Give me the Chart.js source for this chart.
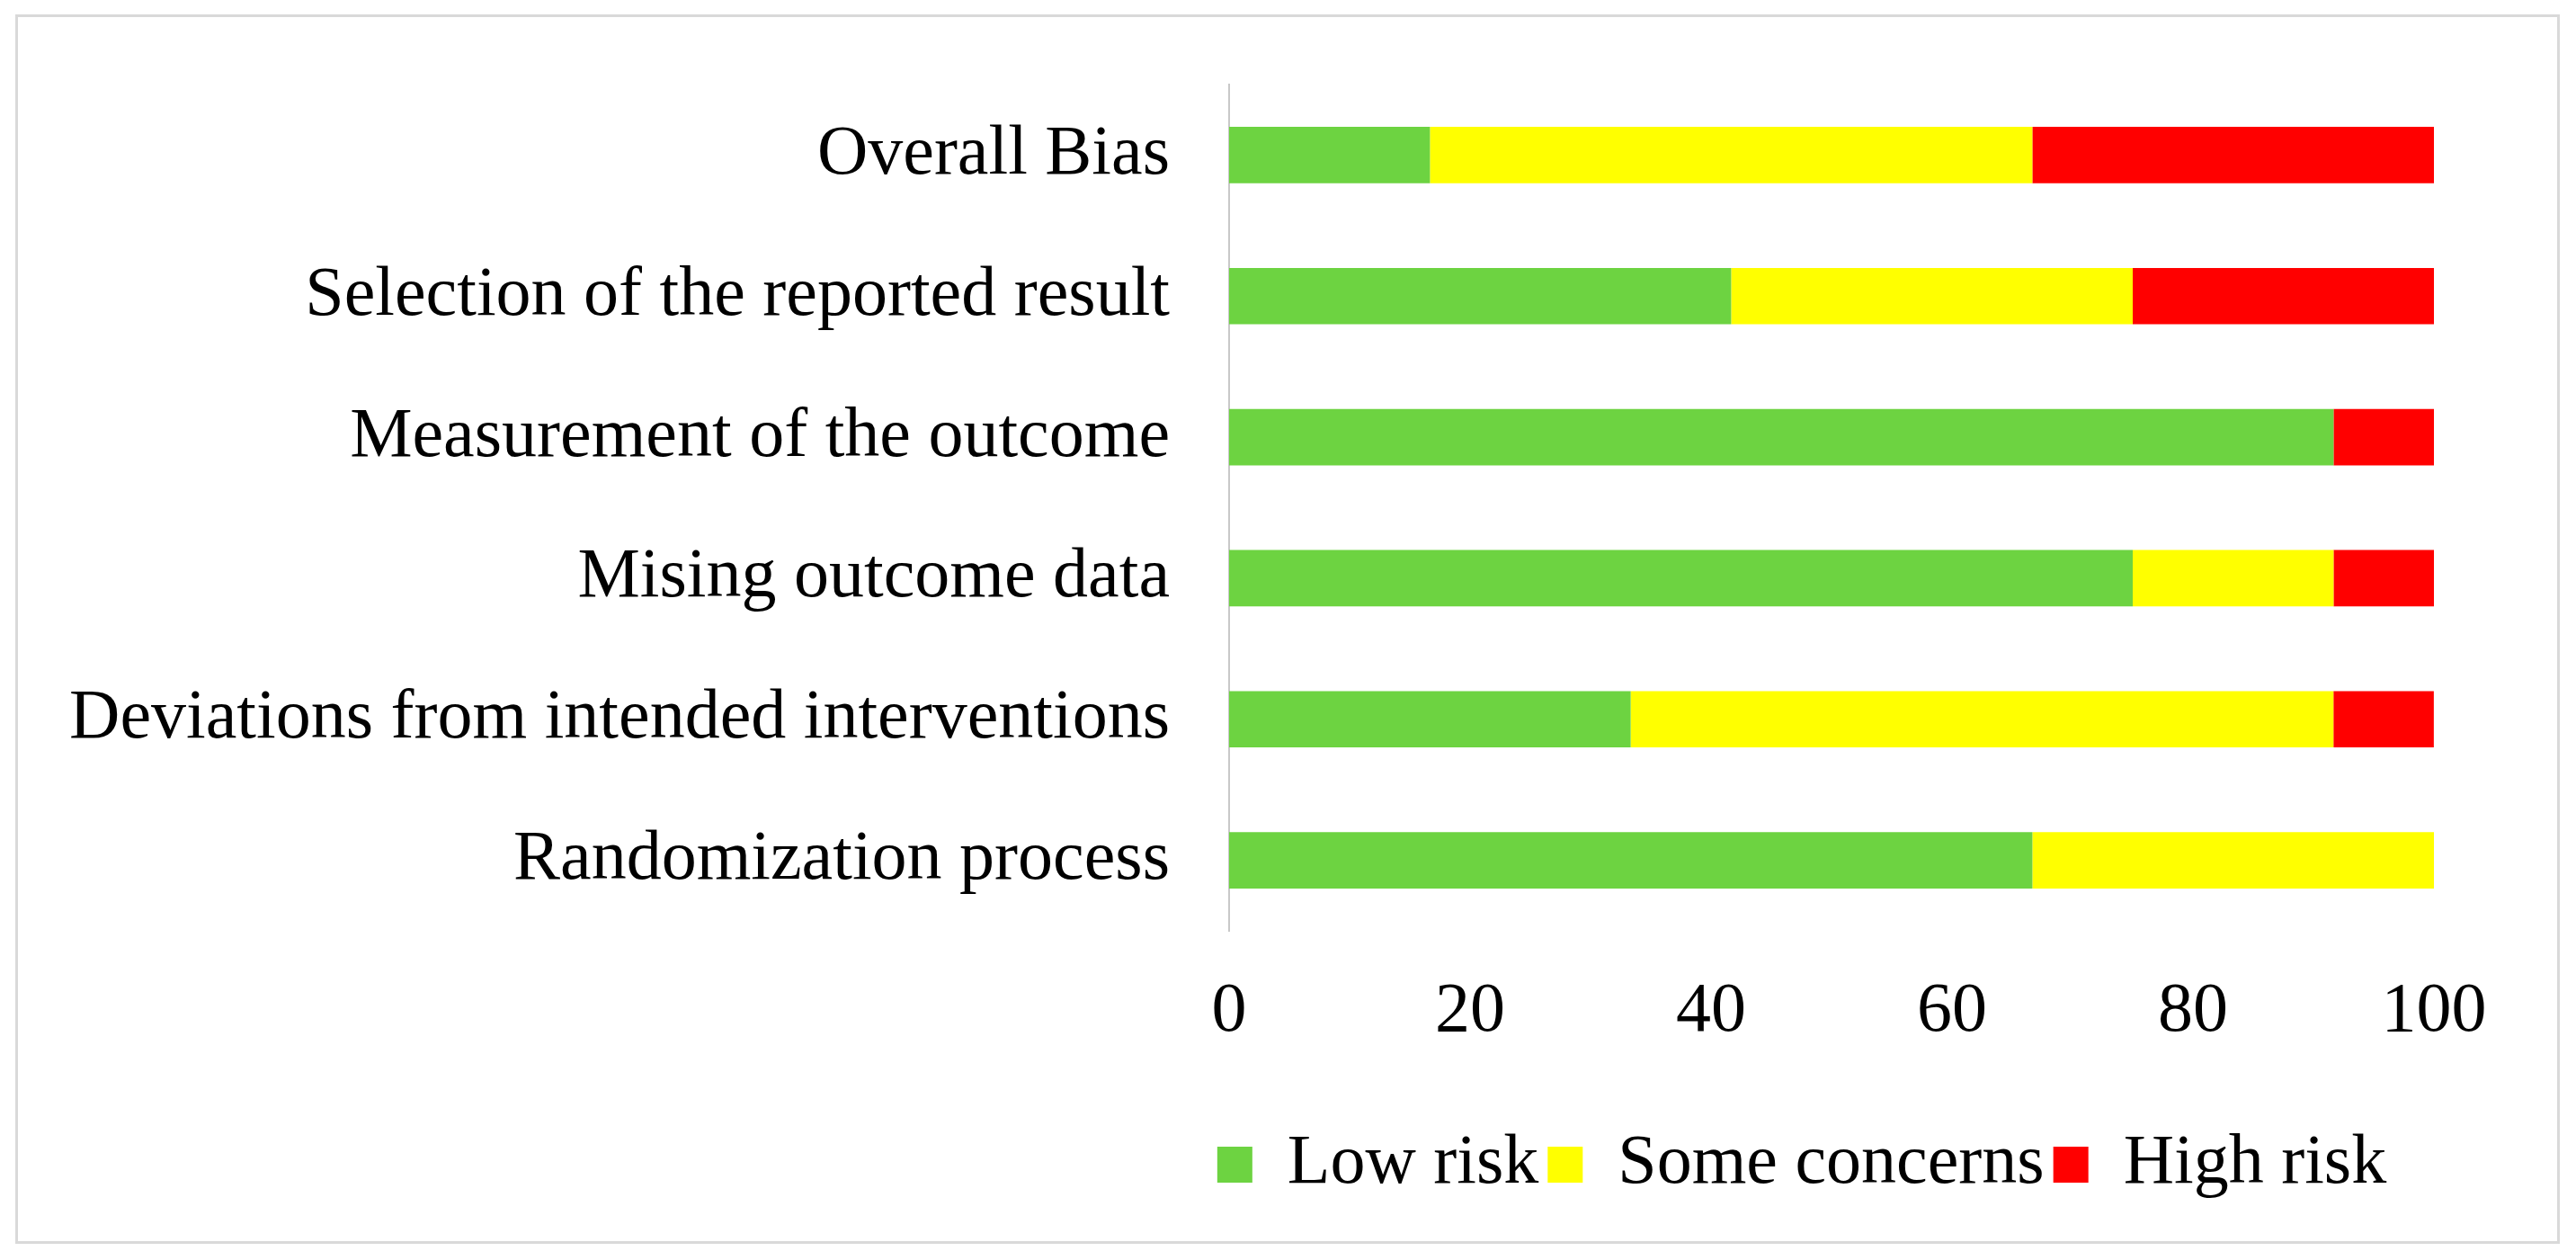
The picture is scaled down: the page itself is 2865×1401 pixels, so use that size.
<!DOCTYPE html>
<html>
<head>
<meta charset="utf-8">
<script src="https://cdn.jsdelivr.net/npm/chart.js@4"></script>
<style>
  html, body { margin: 0; padding: 0; background: #ffffff; }
  #wrap { position: relative; width: 2865px; height: 1401px; overflow: hidden; }
  #frame { position: absolute; left: 17px; top: 16px; width: 2824px; height: 1361px;
           border: 3px solid #d9d9d9; pointer-events: none; }
  canvas { position: absolute; left: 0; top: 0; }
</style>
</head>
<body>
<div id="wrap">
  <canvas id="c" width="2865" height="1401"></canvas>
  <div id="frame"></div>
</div>
<script>
const categories = [
  "Overall Bias",
  "Selection of the reported result",
  "Measurement of the outcome",
  "Mising outcome data",
  "Deviations from intended interventions",
  "Randomization process"
];
const lowRisk      = [16.67, 41.67, 91.67, 75.00, 33.33, 66.67];
const someConcerns = [50.00, 33.33,  0.00, 16.67, 58.33, 33.33];
const highRisk     = [33.33, 25.00,  8.33,  8.33,  8.33,  0.00];
const seriesNames  = ["Low risk", "Some concerns", "High risk"];
const xTicks       = [0, 20, 40, 60, 80, 100];

const FONT = '"Liberation Serif", "Times New Roman", serif';
const FS = 78;

const legendShift = {
  id: 'legendShift',
  afterLayout(chart) {
    if (chart.legend) { chart.legend.left -= 33; chart.legend.right -= 33; }
  }
};

new Chart(document.getElementById('c'), {
  type: 'bar',
  data: {
    labels: categories,
    datasets: [
      { label: seriesNames[0], data: lowRisk,      backgroundColor: '#6DD341' },
      { label: seriesNames[1], data: someConcerns, backgroundColor: '#FFFF00' },
      { label: seriesNames[2], data: highRisk,     backgroundColor: '#FF0000' }
    ]
  },
  plugins: [legendShift],
  options: {
    indexAxis: 'y',
    responsive: false,
    devicePixelRatio: 1,
    animation: false,
    datasets: { bar: { barPercentage: 0.4, categoryPercentage: 1.0, borderWidth: 0 } },
    layout: { padding: { top: 94, right: 158, bottom: 57, left: 0 } },
    scales: {
      x: {
        stacked: true,
        min: 0, max: 100,
        afterBuildTicks: (s) => { s.ticks = xTicks.map(v => ({ value: v })); },
        afterFit: (s) => { s.height = 211; },
        grid: { display: false },
        border: { display: false },
        ticks: { color: '#000', font: { family: FONT, size: FS }, padding: 36, maxRotation: 0 }
      },
      y: {
        stacked: true,
        afterFit: (s) => { s.width = 1367; s.paddingTop = 0; s.paddingBottom = 0; },
        grid: { display: true, drawOnChartArea: false, drawTicks: false },
        border: { display: true, color: '#c8c8c8', width: 2 },
        ticks: { color: '#000', font: { family: FONT, size: FS }, padding: 66 }
      }
    },
    plugins: {
      tooltip: { enabled: false },
      legend: {
        position: 'bottom',
        fullSize: false,
        align: 'center',
        labels: {
          color: '#000',
          font: { family: FONT, size: FS },
          boxWidth: 39,
          boxHeight: 40,
          padding: 10
        }
      }
    }
  }
});
</script>
</body>
</html>
